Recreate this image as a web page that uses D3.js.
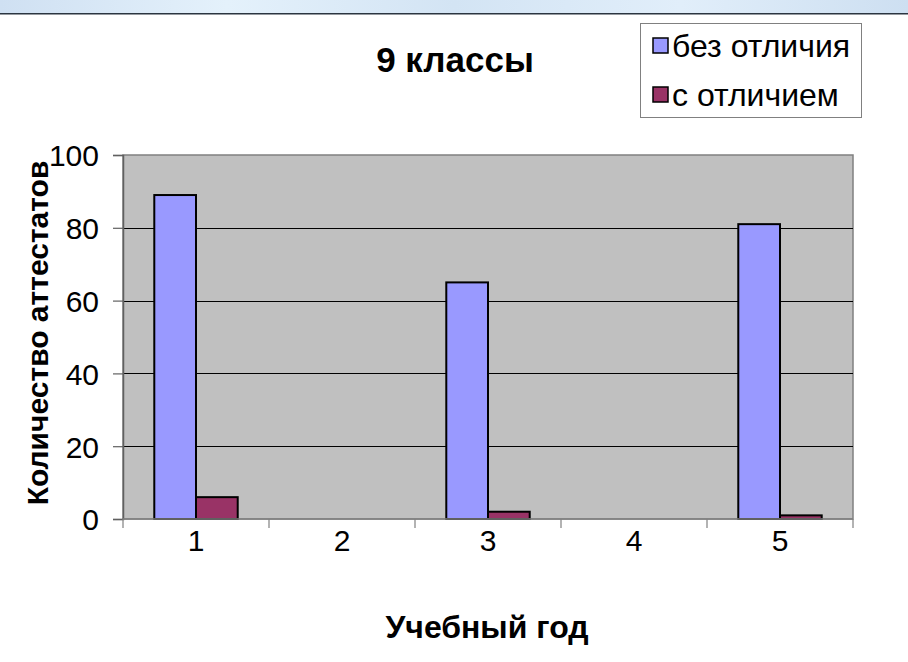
<!DOCTYPE html>
<html>
<head>
<meta charset="utf-8">
<script src="https://cdn.jsdelivr.net/npm/d3@7"></script>
<style>
  html, body { margin: 0; padding: 0; background: #fff; }
  svg { display: block; }
  text { font-family: "Liberation Sans", Arial, sans-serif; fill: #000; }
</style>
</head>
<body>
<svg id="chart" width="908" height="662"></svg>
<script>
// Учебные годы и число аттестатов по сериям
const categories = ["1", "2", "3", "4", "5"];
const seriesNames = ["без отличия", "с отличием"];
const withoutHonours = [89, null, 65, null, 81];
const withHonours = [6, null, 2, null, 1];
const yTicks = [0, 20, 40, 60, 80, 100];
const titleText = "9 классы";
const xTitleText = "Учебный год";
const yTitleText = "Количество аттестатов";

const colors = { "без отличия": "#9999FF", "с отличием": "#993366" };

const svg = d3.select("#chart");

// window strip along the top edge
const defs = svg.append("defs");
const grad = defs.append("linearGradient").attr("id", "strip");
[[0, "#cfe0f2"], [0.25, "#e4f1fb"], [0.5, "#d3e4f4"], [0.75, "#e1eefa"], [1, "#cddff1"]]
  .forEach(([o, c]) => grad.append("stop").attr("offset", o).attr("stop-color", c));
svg.append("rect").attr("x", 0).attr("y", 0).attr("width", 908).attr("height", 13).attr("fill", "url(#strip)");
svg.append("rect").attr("x", 0).attr("y", 13).attr("width", 908).attr("height", 1.5).attr("fill", "#2b3540");

const plot = { left: 123, right: 853, top: 155, bottom: 519 };

const x0 = d3.scaleBand().domain(categories).range([plot.left, plot.right]).padding(0);
const x1 = d3.scaleBand().domain(seriesNames).range([0, x0.bandwidth()])
  .paddingInner(0).paddingOuter(0.75);
const y = d3.scaleLinear().domain([0, 100]).range([plot.bottom, plot.top]);

// plot area background
svg.append("rect")
  .attr("x", plot.left).attr("y", plot.top)
  .attr("width", plot.right - plot.left).attr("height", plot.bottom - plot.top)
  .attr("fill", "#C0C0C0").attr("stroke", "#808080").attr("stroke-width", 1.5);

// horizontal gridlines
svg.append("g").selectAll("line")
  .data(yTicks.filter(t => t > 0 && t < 100))
  .join("line")
  .attr("x1", plot.left).attr("x2", plot.right)
  .attr("y1", d => Math.round(y(d)) + 0.5).attr("y2", d => Math.round(y(d)) + 0.5)
  .attr("stroke", "#000").attr("stroke-width", 1);

// bars
const rows = categories.map((c, i) => ({
  cat: c,
  vals: [
    { s: seriesNames[0], v: withoutHonours[i] },
    { s: seriesNames[1], v: withHonours[i] }
  ]
}));

svg.append("g").selectAll("g")
  .data(rows)
  .join("g")
  .attr("transform", d => `translate(${x0(d.cat)},0)`)
  .selectAll("rect")
  .data(d => d.vals.filter(e => e.v != null))
  .join("rect")
  .attr("x", d => x1(d.s))
  .attr("width", x1.bandwidth())
  .attr("y", d => y(d.v))
  .attr("height", d => y(0) - y(d.v))
  .attr("fill", d => colors[d.s])
  .attr("stroke", "#000")
  .attr("stroke-width", 2);

// y axis
const yAxis = d3.axisLeft(y).tickValues(yTicks).tickSize(10).tickPadding(14);
const gy = svg.append("g").attr("transform", `translate(${plot.left},0)`).call(yAxis);
gy.select(".domain").attr("stroke", "#606060").attr("stroke-width", 1.5);
gy.selectAll(".tick line").attr("stroke", "#606060").attr("stroke-width", 1.2);
gy.selectAll(".tick text")
  .style("font-family", "'Liberation Sans', Arial, sans-serif")
  .style("font-size", "30px").attr("fill", "#000").attr("dy", "0.36em");

// x axis with ticks on category boundaries
const gx = svg.append("g").attr("transform", `translate(0,${plot.bottom})`);
gx.append("line").attr("x1", plot.left).attr("x2", plot.right).attr("y1", 0).attr("y2", 0)
  .attr("stroke", "#808080").attr("stroke-width", 1.5);
const boundaries = categories.map(c => x0(c)).concat([plot.right]);
gx.selectAll("line.b").data(boundaries).join("line").attr("class", "b")
  .attr("x1", d => d).attr("x2", d => d).attr("y1", 0).attr("y2", 9)
  .attr("stroke", "#808080").attr("stroke-width", 1.2);
gx.selectAll("text").data(categories).join("text")
  .attr("x", d => x0(d) + x0.bandwidth() / 2)
  .attr("y", 32)
  .attr("text-anchor", "middle")
  .style("font-size", "30px")
  .text(d => d);

// title
svg.append("text").attr("x", 455).attr("y", 72).attr("text-anchor", "middle")
  .style("font-size", "35px").style("font-weight", "bold").text(titleText);

// axis titles
svg.append("text").attr("x", 487).attr("y", 638).attr("text-anchor", "middle")
  .style("font-size", "32px").style("font-weight", "bold").text(xTitleText);
svg.append("text")
  .attr("transform", `translate(48,${333}) rotate(-90)`)
  .attr("text-anchor", "middle")
  .style("font-size", "30px").style("font-weight", "bold").text(yTitleText);

// legend
const legend = svg.append("g");
legend.append("rect").attr("x", 640.5).attr("y", 23.5).attr("width", 221).attr("height", 94)
  .attr("fill", "#fff").attr("stroke", "#808080").attr("stroke-width", 1);
const li = legend.selectAll("g.item").data(seriesNames).join("g").attr("class", "item")
  .attr("transform", (d, i) => `translate(653,${46 + i * 49})`);
li.append("rect").attr("x", 0).attr("y", -8).attr("width", 15).attr("height", 15)
  .attr("fill", d => colors[d]).attr("stroke", "#000").attr("stroke-width", 1.5);
li.append("text").attr("x", 19).attr("y", 0).attr("dy", "0.35em")
  .style("font-size", "32px").text(d => d);
</script>
</body>
</html>
